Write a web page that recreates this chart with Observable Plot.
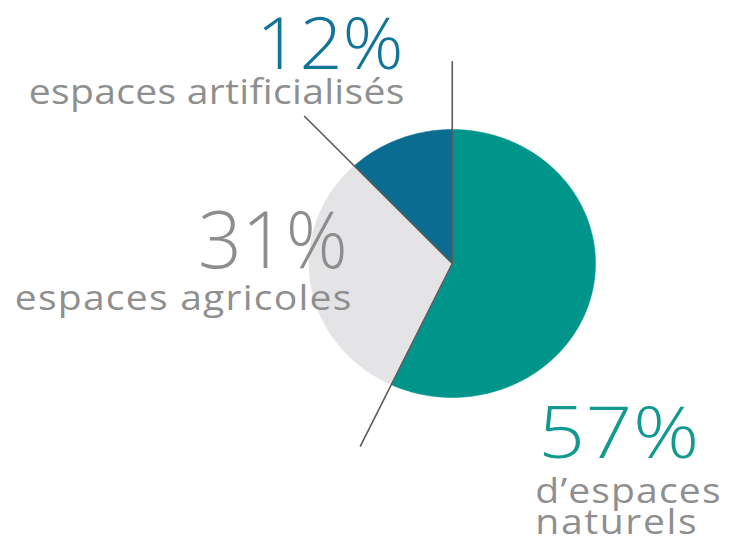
<!DOCTYPE html>
<html>
<head>
<meta charset="utf-8">
<script src="https://cdn.jsdelivr.net/npm/d3@7"></script>
<script src="https://cdn.jsdelivr.net/npm/@observablehq/plot@0.6"></script>
<style>
  html, body { margin: 0; padding: 0; background: #ffffff; }
  #chart svg { display: block; }
</style>
</head>
<body>
<div id="chart"></div>
<script>
// Data
const categories = ["naturels", "agricoles", "artificialisés"];
const values = [57, 31, 12];
const percentLabels = ["57%", "31%", "12%"];
const captionLabels = [["d’espaces", "naturels"], ["espaces agricoles"], ["espaces artificialisés"]];

// Styles
const sliceColors = ["#00958a", "#e4e4e7", "#0b6c91"];
const percentColors = ["#129a90", "#8d8d8d", "#13749a"];
const captionColor = "#8f8f8f";
const FONT = "'Open Sans', sans-serif";

// Pie geometry computed from values (unit-circle coordinates, y up, clockwise from top)
const total = d3.sum(values);
let cum = 0;
const slices = values.map((v, i) => {
  const a0 = cum / total * 2 * Math.PI;
  cum += v;
  const a1 = cum / total * 2 * Math.PI;
  return {cat: categories[i], a0, a1, i};
});
function slicePoints(s) {
  const pts = [{x: 0, y: 0}];
  const n = Math.max(2, Math.ceil((s.a1 - s.a0) / 0.01));
  for (let k = 0; k <= n; k++) {
    const a = s.a0 + (s.a1 - s.a0) * k / n;
    pts.push({x: Math.sin(a), y: Math.cos(a)});
  }
  pts.push({x: 0, y: 0});
  return pts;
}
const leaderR = 1.51;
const leaders = slices.map(s => ({x1: 0, y1: 0, x2: leaderR * Math.sin(s.a0), y2: leaderR * Math.cos(s.a0)}));

// Label layout (unit coordinates) and typographic tweaks (horizontal stretch + tracking)
const pctPos = [
  {x: 0.60, y: -1.455, anchor: "start", size: 72, sx: 1.14, ls: 0.5},
  {x: -0.73, y: -0.03, anchor: "end", size: 80, sx: 0.96, ls: 0},
  {x: -0.34, y: 1.455, anchor: "end", size: 72, sx: 1.05, ls: 0}
];
const capPos = [
  [{x: 0.58, y: -1.79, sx: 1.15, ls: 1.0}, {x: 0.58, y: -2.015, sx: 1.15, ls: 1.4}],
  [{x: -0.705, y: -0.35, sx: 1.15, ls: 1.05}],
  [{x: -0.335, y: 1.194, sx: 1.15, ls: 0.25}]
];
const capAnchor = ["start", "end", "end"];
const typo = new Map();

const marks = [];
slices.forEach(s => {
  marks.push(Plot.line(slicePoints(s), {x: "x", y: "y", fill: sliceColors[s.i], stroke: sliceColors[s.i], strokeWidth: 0.5, curve: "linear"}));
});
marks.push(Plot.link(leaders, {x1: "x1", y1: "y1", x2: "x2", y2: "y2", stroke: "#5b5b5b", strokeWidth: 1.6}));
slices.forEach(s => {
  const p = pctPos[s.i];
  typo.set(percentLabels[s.i], p);
  marks.push(Plot.text([percentLabels[s.i]], {x: () => p.x, y: () => p.y, text: d => d, textAnchor: p.anchor, lineAnchor: "bottom", dx: p.anchor === "end" ? p.ls * p.sx : 0, fontSize: p.size, fontWeight: 300, fill: percentColors[s.i], fontFamily: FONT}));
  captionLabels[s.i].forEach((t, j) => {
    const c = capPos[s.i][j];
    typo.set(t, c);
    marks.push(Plot.text([t], {x: () => c.x, y: () => c.y, text: d => d, textAnchor: capAnchor[s.i], lineAnchor: "bottom", dx: capAnchor[s.i] === "end" ? c.ls * c.sx : 0, fontSize: 34, fontWeight: 400, fill: captionColor, fontFamily: FONT}));
  });
});

const chart = Plot.plot({
  width: 734,
  height: 547,
  margin: 0,
  style: {background: "#ffffff", fontFamily: FONT},
  x: {domain: [-1, 1], range: [308.5, 595], axis: null},
  y: {domain: [-1, 1], range: [397, 129], axis: null},
  marks
});
chart.querySelectorAll("text").forEach(el => {
  const t = typo.get(el.textContent);
  if (!t) return;
  if (t.ls) el.setAttribute("letter-spacing", t.ls);
  const tr = el.getAttribute("transform");
  if (tr) el.setAttribute("transform", tr + ` scale(${t.sx},1)`);
});
document.getElementById("chart").appendChild(chart);
</script>
</body>
</html>
